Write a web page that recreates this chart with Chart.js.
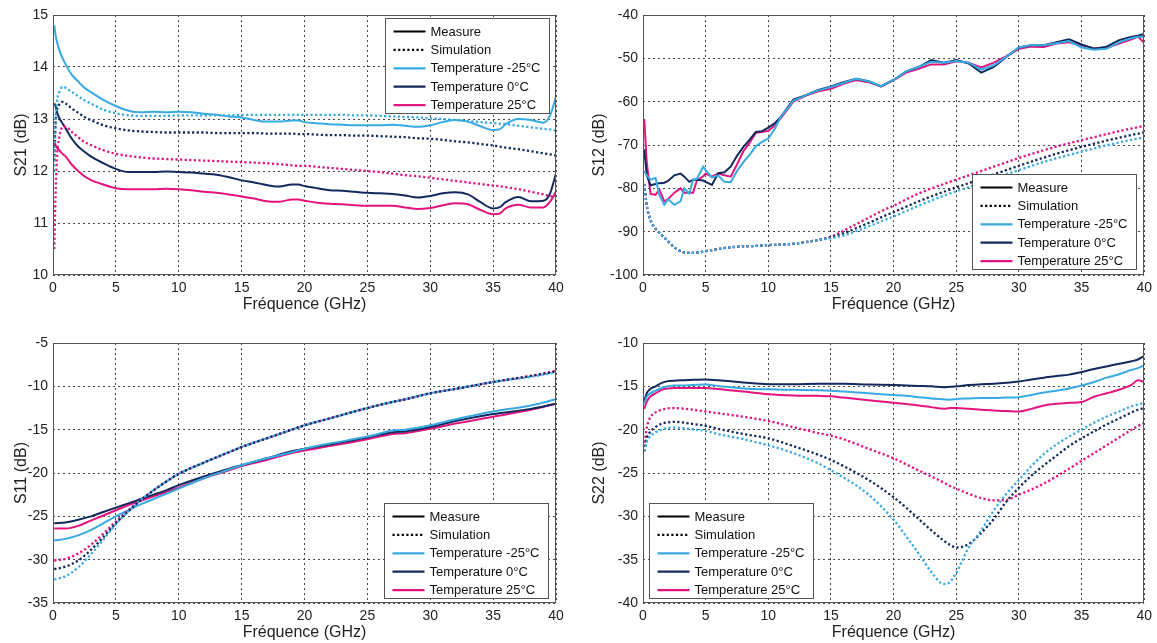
<!DOCTYPE html>
<html><head><meta charset="utf-8">
<script src="https://cdn.jsdelivr.net/npm/chart.js@4.4.1/dist/chart.umd.min.js"></script>
<style>
html,body{margin:0;padding:0;background:#fff;}
body{width:1157px;height:643px;overflow:hidden;position:relative;}
.box{position:absolute;}
canvas{display:block;}
</style></head>
<body>
<div class="box" style="left:0;top:0;"><canvas id="c21" width="578" height="320"></canvas></div>
<div class="box" style="left:578px;top:0;"><canvas id="c12" width="579" height="320"></canvas></div>
<div class="box" style="left:0;top:320px;"><canvas id="c11" width="578" height="323"></canvas></div>
<div class="box" style="left:578px;top:320px;"><canvas id="c22" width="579" height="323"></canvas></div>
<script>
// ---------- DATA ----------
const legendLabels = ['Measure','Simulation','Temperature -25°C','Temperature 0°C','Temperature 25°C'];
const xTitle = 'Fréquence (GHz)';
const xTicks = [0,5,10,15,20,25,30,35,40];

// S21
const fA = [0.1,0.2,0.3,0.5,0.8,1,1.5,2,2.5,3,4,5,6,7,8,9,10,11,12,13,14,15,16,17,18,19,19.5,20,21,22,23,24,25,26,27,28,29,30,31,32,33,34,35,35.5,36,37,38,39,39.5,40];
const s21MeasM25 = [14.8,14.62,14.5,14.33,14.15,14.05,13.85,13.72,13.6,13.52,13.37,13.25,13.16,13.13,13.14,13.13,13.14,13.13,13.1,13.08,13.05,13.03,12.98,12.95,12.95,12.97,12.97,12.94,12.92,12.9,12.89,12.88,12.88,12.88,12.89,12.87,12.85,12.88,12.94,12.98,12.95,12.86,12.79,12.8,12.9,13.0,12.98,12.93,13.05,13.42];
const s21Meas0 = [13.3,13.25,13.15,13.02,12.9,12.82,12.62,12.47,12.37,12.28,12.15,12.04,11.98,11.98,11.98,11.99,11.98,11.97,11.95,11.93,11.88,11.82,11.78,11.73,11.7,11.74,11.74,11.71,11.67,11.63,11.62,11.6,11.58,11.57,11.56,11.53,11.49,11.52,11.57,11.59,11.55,11.4,11.28,11.3,11.4,11.5,11.42,11.43,11.55,11.95];
const s21Meas25 = [12.56,12.5,12.45,12.4,12.32,12.28,12.12,12.0,11.9,11.83,11.74,11.67,11.65,11.65,11.65,11.66,11.65,11.63,11.6,11.58,11.55,11.51,11.47,11.42,11.41,11.45,11.45,11.43,11.39,11.37,11.36,11.34,11.33,11.33,11.33,11.3,11.27,11.29,11.34,11.38,11.36,11.25,11.17,11.18,11.28,11.35,11.3,11.3,11.4,11.6];
const s21SimM25 = [12.0,12.9,13.3,13.52,13.62,13.6,13.52,13.44,13.36,13.3,13.18,13.11,13.07,13.06,13.06,13.06,13.07,13.07,13.07,13.07,13.07,13.08,13.08,13.08,13.08,13.08,13.08,13.08,13.08,13.08,13.08,13.07,13.07,13.06,13.05,13.04,13.03,13.01,13.0,12.98,12.96,12.94,12.92,12.91,12.9,12.87,12.84,12.81,12.8,12.78];
const s21Sim0 = [12.2,12.9,13.15,13.28,13.33,13.3,13.2,13.12,13.04,12.98,12.88,12.82,12.78,12.76,12.75,12.74,12.74,12.74,12.74,12.73,12.73,12.73,12.73,12.72,12.72,12.72,12.71,12.71,12.7,12.69,12.69,12.68,12.68,12.67,12.66,12.65,12.63,12.62,12.6,12.57,12.55,12.52,12.49,12.47,12.45,12.42,12.38,12.34,12.32,12.3];
const s21Sim25 = [10.5,11.5,12.2,12.65,12.85,12.85,12.75,12.65,12.56,12.5,12.4,12.33,12.29,12.26,12.24,12.23,12.22,12.21,12.2,12.19,12.18,12.17,12.16,12.15,12.13,12.11,12.1,12.1,12.08,12.06,12.04,12.02,12.0,11.98,11.95,11.92,11.9,11.87,11.84,11.81,11.78,11.75,11.72,11.71,11.69,11.65,11.6,11.55,11.52,11.5];

// S12
const fB = [0.1,0.3,0.6,1,1.3,1.7,2,2.5,3,3.3,3.7,4,4.3,4.8,5,5.5,6,6.5,7,7.5,8,8.5,9,9.5,10,10.5,11,12,13,14,15,16,17,18,19,20,21,22,23,24,25,26,27,28,29,30,31,32,33,34,35,36,37,38,39,39.5,40];
const s12MeasM25 = [-76,-77,-78,-77.6,-81.5,-83.8,-82.5,-83.8,-83,-80,-81.2,-78,-77.8,-75,-75.8,-77.5,-77,-78.5,-78.6,-76,-74,-72.3,-70.3,-69.3,-68.5,-66.3,-63.5,-59.8,-58.5,-57.4,-56.6,-55.7,-54.7,-55.3,-56.4,-55,-53,-52,-50.8,-51,-50.6,-51,-52.6,-51.6,-49.6,-47.5,-46.9,-47,-46.5,-46,-47.5,-48,-47.8,-46.3,-45.3,-45,-45];
const s12Meas0 = [-71,-77,-79.3,-79,-78.8,-78.7,-78.3,-77,-76.6,-77.3,-78.5,-78,-78,-78.2,-78.5,-79.2,-76.5,-76.3,-75,-72.5,-70.5,-68.8,-67,-66.8,-66,-65,-63.5,-59.5,-58.5,-57.3,-56.5,-55.5,-54.7,-55.3,-56.5,-55,-53,-52,-50.4,-51,-50.4,-51.2,-53.3,-52,-49.7,-47.5,-47,-47,-46.3,-45.6,-46.8,-47.8,-47.3,-45.8,-45,-44.8,-44.4];
const s12Meas25 = [-64,-74,-81.3,-81.5,-80.3,-83,-82.5,-81,-80,-81,-81,-81,-78.2,-77.2,-76.6,-77.3,-76.6,-77,-77.3,-74.5,-71.5,-69.5,-67.2,-67,-66.7,-65.5,-63.8,-60,-58.6,-57.6,-57,-55.9,-55,-55.5,-56.5,-55,-53.3,-52.4,-51.4,-51.4,-50.7,-51,-52.1,-51,-49.5,-47.8,-47.3,-47.4,-46.6,-46.3,-47,-47.7,-47.6,-46.6,-45.6,-45,-46.4];
const fBs = [0.1,0.3,0.5,0.7,1,1.5,2,2.5,3,3.5,4,5,6,7,8,9,10,11,12,13,14,15,16,17,18,19,20,22,24,26,28,30,32,34,36,38,40];
const s12SimM25 = [-79,-84,-86.5,-88,-89.3,-90.8,-92.2,-93.6,-94.5,-94.9,-94.9,-94.5,-94,-93.6,-93.4,-93.3,-93.1,-93,-92.8,-92.4,-91.9,-91.5,-90.9,-89.9,-88.8,-87.6,-86.5,-84,-81.7,-79.7,-77.7,-75.8,-73.9,-72.3,-70.8,-69.4,-68.2];
const s12Sim0 = [-79,-84,-86.5,-88,-89.3,-90.8,-92.2,-93.6,-94.5,-94.9,-94.9,-94.5,-94,-93.6,-93.4,-93.3,-93.1,-93,-92.8,-92.4,-91.9,-91.3,-90.4,-89.2,-88,-86.7,-85.5,-83,-80.8,-78.8,-76.8,-74.8,-72.9,-71.2,-69.7,-68.3,-67.1];
const s12Sim25 = [-79,-84,-86.5,-88,-89.3,-90.8,-92.2,-93.6,-94.5,-94.9,-94.9,-94.5,-94,-93.6,-93.4,-93.3,-93.1,-93,-92.8,-92.4,-91.9,-91.2,-89.8,-88.3,-86.8,-85.3,-84,-81.2,-79,-77,-75,-73,-71.2,-69.6,-68.2,-66.8,-65.6];

// S11
const fC = [0.1,1,2,3,4,5,6,7,8,9,10,12,14,15,17,19,20,22,25,27,28,30,32,35,38,40];
const s11MeasM25 = [-27.8,-27.6,-27.2,-26.6,-25.8,-25.0,-24.3,-23.6,-23.0,-22.4,-21.8,-20.6,-19.6,-19.1,-18.3,-17.6,-17.2,-16.6,-15.8,-15.1,-15.0,-14.5,-13.8,-12.9,-12.2,-11.5];
const s11Meas0 = [-25.8,-25.7,-25.4,-25.0,-24.5,-24.0,-23.5,-23.0,-22.5,-22.0,-21.4,-20.4,-19.5,-19.1,-18.3,-17.5,-17.2,-16.7,-15.9,-15.3,-15.2,-14.7,-14.0,-13.2,-12.6,-12.0];
const s11Meas25 = [-26.4,-26.4,-26.1,-25.5,-24.9,-24.3,-23.7,-23.2,-22.7,-22.2,-21.7,-20.6,-19.7,-19.2,-18.5,-17.7,-17.4,-16.9,-16.1,-15.5,-15.4,-14.9,-14.3,-13.5,-12.7,-12.0];
const s11SimM25 = [-32.3,-31.9,-30.9,-29.4,-27.7,-25.9,-24.4,-23.1,-22.0,-21.0,-20.1,-18.8,-17.6,-17.0,-16.0,-15.0,-14.5,-13.7,-12.5,-11.8,-11.5,-10.8,-10.3,-9.5,-8.9,-8.4];
const s11Sim0 = [-31.1,-30.8,-30.1,-28.9,-27.4,-25.8,-24.4,-23.1,-22.0,-21.0,-20.1,-18.8,-17.6,-17.0,-16.0,-15.0,-14.5,-13.7,-12.5,-11.8,-11.5,-10.8,-10.3,-9.5,-8.8,-8.3];
const s11Sim25 = [-30.1,-29.9,-29.3,-28.3,-27.0,-25.6,-24.3,-23.1,-22.0,-21.0,-20.1,-18.8,-17.6,-17.0,-16.0,-15.0,-14.5,-13.7,-12.5,-11.8,-11.5,-10.8,-10.3,-9.5,-8.8,-8.2];

// S22
const fD = [0.1,0.3,0.5,1,1.5,2,2.5,3,4,5,6,8,10,12,14,15,16,18,20,21,22,23,24,24.5,25,26,27,28,29,30,31,32,33,34,35,36,37,38,39,39.5,40];
const s22MeasM25 = [-17.0,-16.2,-15.9,-15.5,-15.2,-15.0,-14.9,-14.9,-14.85,-14.8,-14.95,-15.25,-15.35,-15.4,-15.45,-15.5,-15.6,-15.8,-16.0,-16.1,-16.25,-16.4,-16.5,-16.55,-16.45,-16.4,-16.35,-16.35,-16.3,-16.25,-16.0,-15.7,-15.5,-15.25,-14.9,-14.5,-14.0,-13.6,-13.1,-12.9,-12.6];
const s22Meas0 = [-16.7,-15.8,-15.4,-15.0,-14.6,-14.4,-14.35,-14.3,-14.25,-14.2,-14.3,-14.55,-14.75,-14.75,-14.7,-14.7,-14.7,-14.8,-14.85,-14.9,-14.95,-15.0,-15.1,-15.05,-15.0,-14.85,-14.75,-14.7,-14.6,-14.45,-14.2,-14.0,-13.8,-13.65,-13.35,-13.0,-12.7,-12.4,-12.1,-11.9,-11.5];
const s22Meas25 = [-17.6,-16.8,-16.3,-15.8,-15.4,-15.25,-15.2,-15.2,-15.2,-15.2,-15.3,-15.6,-15.9,-16.05,-16.1,-16.15,-16.3,-16.6,-16.9,-17.05,-17.2,-17.4,-17.6,-17.5,-17.5,-17.6,-17.7,-17.8,-17.85,-17.9,-17.6,-17.2,-17.0,-16.9,-16.8,-16.2,-15.8,-15.4,-14.8,-14.3,-14.5];
const s22SimM25 = [-22.5,-21.4,-20.9,-20.3,-20.0,-19.8,-19.75,-19.8,-19.95,-20.15,-20.5,-21.1,-21.8,-22.7,-23.9,-24.7,-25.5,-27.5,-30.4,-32.3,-34.3,-36.4,-37.8,-37.6,-36.5,-33.6,-31.6,-29.3,-27.4,-25.8,-24.2,-22.8,-21.7,-20.8,-20.0,-19.2,-18.5,-17.9,-17.3,-17.1,-16.9];
const s22Sim0 = [-22.5,-21.0,-20.4,-19.7,-19.3,-19.15,-19.1,-19.15,-19.35,-19.55,-19.9,-20.5,-21.0,-21.9,-22.9,-23.5,-24.2,-25.8,-27.8,-29.0,-30.3,-31.6,-32.8,-33.3,-33.6,-33.2,-31.9,-30.3,-28.3,-26.7,-25.3,-24.1,-23.0,-21.9,-21.0,-20.2,-19.4,-18.7,-18.0,-17.7,-17.5];
const s22Sim25 = [-22.0,-19.8,-18.8,-18.0,-17.7,-17.55,-17.5,-17.55,-17.7,-17.9,-18.1,-18.5,-19.0,-19.7,-20.4,-20.7,-21.1,-22.2,-23.3,-24.0,-24.7,-25.4,-26.1,-26.5,-26.8,-27.4,-27.9,-28.15,-28.1,-27.5,-26.9,-26.2,-25.4,-24.5,-23.6,-22.7,-21.8,-20.9,-20.0,-19.6,-19.2];

// ---------- STYLE ----------
const LB = '#38AAE2', NV = '#14295B', PK = '#E3137F';
const FONT = "'Liberation Sans', Arial, sans-serif";
const legendStyles = [
  {color:'#000', dash:[]},
  {color:'#000', dash:[2.2,2.4]},
  {color:LB, dash:[]},
  {color:NV, dash:[]},
  {color:PK, dash:[]}
];

function series(xs, ys, color, dotted, straight) {
  return {
    data: xs.map((x, i) => ({x: x, y: ys[i]})),
    borderColor: color,
    borderWidth: dotted ? 2.3 : 2,
    borderDash: dotted ? [2.2, 2.4] : [],
    pointRadius: 0,
    fill: false,
    tension: straight ? 0 : 0,
    cubicInterpolationMode: straight ? 'default' : 'monotone'
  };
}

const framePlugin = {
  id: 'matFrame',
  afterDatasetsDraw(chart, args, o) {
    const ctx = chart.ctx, a = chart.chartArea;
    ctx.save();
    ctx.setLineDash([]);
    ctx.strokeStyle = '#555';
    ctx.lineWidth = 1;
    ctx.strokeRect(Math.round(a.left) + 0.5, Math.round(a.top) + 0.5, Math.round(a.right - a.left) - 1, Math.round(a.bottom - a.top) - 1);
    // legend box
    const w = 164, h = 95;
    const x = Math.round(o.corner[1] === 'r' ? a.right - o.dx - w : a.left + o.dx) + 0.5;
    const y = Math.round(o.corner[0] === 't' ? a.top + o.dy : a.bottom - o.dy - h) + 0.5;
    ctx.fillStyle = '#fff';
    ctx.fillRect(x, y, w, h);
    ctx.strokeStyle = '#555';
    ctx.lineWidth = 1;
    ctx.strokeRect(x, y, w, h);
    ctx.font = '13px ' + FONT;
    ctx.textBaseline = 'middle';
    ctx.textAlign = 'left';
    legendLabels.forEach((t, i) => {
      const yy = y + 13 + i * 18.4;
      ctx.beginPath();
      ctx.setLineDash(legendStyles[i].dash);
      ctx.strokeStyle = legendStyles[i].color;
      ctx.lineWidth = i === 1 ? 2.3 : 2.2;
      ctx.moveTo(x + 8, yy);
      ctx.lineTo(x + 40, yy);
      ctx.stroke();
      ctx.setLineDash([]);
      ctx.fillStyle = '#111';
      ctx.fillText(t, x + 45, yy + 0.5);
    });
    ctx.restore();
  }
};

function makeChart(id, p) {
  const datasets = [
    series(p.fs, p.simM25, LB, true),
    series(p.fs, p.sim0, NV, true),
    series(p.fs, p.sim25, PK, true),
    series(p.fm, p.measM25, LB, false, p.straight),
    series(p.fm, p.meas0, NV, false, p.straight),
    series(p.fm, p.meas25, PK, false, p.straight)
  ];
  const grid = {
    color: 'rgba(40,40,40,0.85)',
    lineWidth: 1,
    drawTicks: false,
    tickBorderDash: [],
  };
  return new Chart(document.getElementById(id), {
    type: 'line',
    data: {datasets},
    plugins: [framePlugin],
    options: {
      responsive: false,
      animation: false,
      devicePixelRatio: 1,
      layout: {padding: {top: p.padTop, right: p.padRight, left: 0, bottom: 0}},
      plugins: {
        legend: {display: false},
        tooltip: {enabled: false},
        matFrame: p.legend
      },
      scales: {
        x: {
          type: 'linear', min: 0, max: 40,
          afterBuildTicks: s => { s.ticks = xTicks.map(v => ({value: v})); },
          ticks: {font: {family: FONT, size: 14}, color: '#222', padding: 5, maxRotation: 0},
          grid: Object.assign({}, grid),
          border: {display: false, dash: [2, 3]},
          title: {display: true, text: xTitle, font: {family: FONT, size: 16}, color: '#222', padding: {top: 0, bottom: p.xTitlePad}},
          afterFit: s => { s.height = p.xH; }
        },
        y: {
          type: 'linear', min: p.yMin, max: p.yMax,
          afterBuildTicks: s => { s.ticks = p.yTicks.map(v => ({value: v})); },
          ticks: {font: {family: FONT, size: 14}, color: '#222', padding: 5},
          grid: Object.assign({}, grid),
          border: {display: false, dash: [2, 3]},
          title: {display: true, text: p.yTitle, font: {family: FONT, size: 16}, color: '#222', padding: {top: 12, bottom: 0}},
          afterFit: s => { s.width = p.yW; }
        }
      }
    }
  });
}

makeChart('c21', {
  fm: fA, fs: fA,
  measM25: s21MeasM25, meas0: s21Meas0, meas25: s21Meas25,
  simM25: s21SimM25, sim0: s21Sim0, sim25: s21Sim25,
  yMin: 10, yMax: 15, yTicks: [10,11,12,13,14,15], yTitle: 'S21 (dB)',
  padTop: 15, padRight: 22, yW: 53, xH: 45, xTitlePad: 6,
  legend: {corner: 'tr', dx: 7, dy: 3}
});
makeChart('c12', {
  fm: fB, fs: fBs, straight: true,
  measM25: s12MeasM25, meas0: s12Meas0, meas25: s12Meas25,
  simM25: s12SimM25, sim0: s12Sim0, sim25: s12Sim25,
  yMin: -100, yMax: -40, yTicks: [-100,-90,-80,-70,-60,-50,-40], yTitle: 'S12 (dB)',
  padTop: 15, padRight: 12, yW: 65, xH: 45, xTitlePad: 6,
  legend: {corner: 'br', dx: 8, dy: 6}
});
makeChart('c11', {
  fm: fC, fs: fC,
  measM25: s11MeasM25, meas0: s11Meas0, meas25: s11Meas25,
  simM25: s11SimM25, sim0: s11Sim0, sim25: s11Sim25,
  yMin: -35, yMax: -5, yTicks: [-35,-30,-25,-20,-15,-10,-5], yTitle: 'S11 (dB)',
  padTop: 23, padRight: 22, yW: 53, xH: 40, xTitlePad: 1,
  legend: {corner: 'br', dx: 8, dy: 5}
});
makeChart('c22', {
  fm: fD, fs: fD,
  measM25: s22MeasM25, meas0: s22Meas0, meas25: s22Meas25,
  simM25: s22SimM25, sim0: s22Sim0, sim25: s22Sim25,
  yMin: -40, yMax: -10, yTicks: [-40,-35,-30,-25,-20,-15,-10], yTitle: 'S22 (dB)',
  padTop: 23, padRight: 12, yW: 65, xH: 40, xTitlePad: 1,
  legend: {corner: 'bl', dx: 6, dy: 5}
});
</script>
</body></html>
